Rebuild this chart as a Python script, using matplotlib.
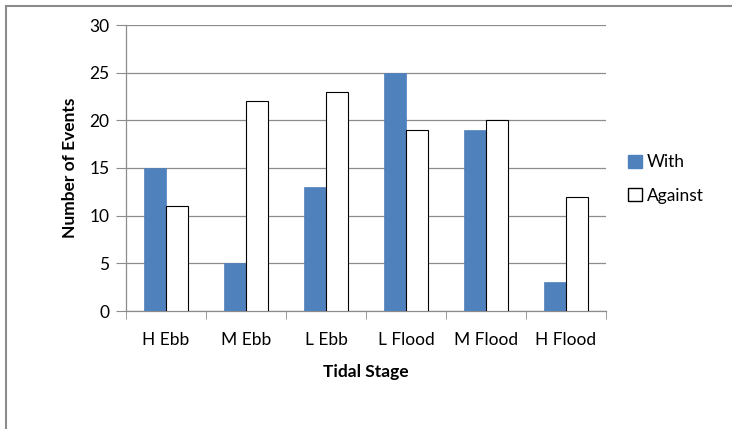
import numpy as np
import matplotlib
matplotlib.use('Agg')
import matplotlib.pyplot as plt
from matplotlib.lines import Line2D
from matplotlib.patches import Patch

stages = ['H Ebb', 'M Ebb', 'L Ebb', 'L Flood', 'M Flood', 'H Flood']
with_tide = [15, 5, 13, 25, 19, 3]
against_tide = [11, 22, 23, 19, 20, 12]

plt.rcParams['font.family'] = ['Lato', 'DejaVu Sans']

fig = plt.figure(figsize=(7.32, 4.29), dpi=100)
ax = fig.add_axes([126/732, 1 - 311/429, 480/732, 286/429])

x = np.arange(len(stages))
w = 0.275
ax.bar(x - w/2, with_tide, width=w, color='#4F81BD', edgecolor='#4F81BD',
       linewidth=0.5, label='With', zorder=3)
ax.bar(x + w/2, against_tide, width=w, color='white', edgecolor='black',
       linewidth=0.8, label='Against', zorder=3)

ax.set_xlim(-0.5, len(stages) - 0.5)
ax.set_ylim(0, 30)
ax.set_yticks(range(0, 31, 5))
ax.yaxis.grid(True, color='#8c8c8c', linewidth=0.9, zorder=0)

ax.set_xticks(x)
ax.set_xticklabels(stages)
ax.set_xticks(np.arange(-0.5, len(stages)), minor=True)
ax.tick_params(axis='x', which='major', length=0, pad=15, labelsize=12.5)
ax.tick_params(axis='x', which='minor', length=6, color='#8c8c8c')
ax.tick_params(axis='y', length=7, color='#8c8c8c', labelsize=12.5, pad=5)

for s in ['top', 'right']:
    ax.spines[s].set_visible(False)
for s in ['left', 'bottom']:
    ax.spines[s].set_color('#8c8c8c')
    ax.spines[s].set_linewidth(0.9)

ax.set_ylabel('Number of Events', fontsize=12.5, fontweight='bold', labelpad=8)
ax.set_xlabel('Tidal Stage', fontsize=12.5, fontweight='bold', labelpad=12)

handles = [Patch(facecolor='#4F81BD', edgecolor='#4F81BD', label='With'),
           Patch(facecolor='white', edgecolor='black', label='Against')]
fig.legend(handles=handles, loc='center left', bbox_to_anchor=(612/732, 1 - 179/429),
           frameon=False, fontsize=12.5, handlelength=0.8, handleheight=0.8,
           handletextpad=0.3, labelspacing=1.0)

# outer chart frame (top and left edges)
fig.add_artist(Line2D([6/732, 1], [1 - 6/429, 1 - 6/429], color='#8c8c8c', lw=1.5,
                      transform=fig.transFigure))
fig.add_artist(Line2D([6/732, 6/732], [0, 1 - 6/429], color='#8c8c8c', lw=1.5,
                      transform=fig.transFigure))

fig.savefig('out.png', dpi=100)
